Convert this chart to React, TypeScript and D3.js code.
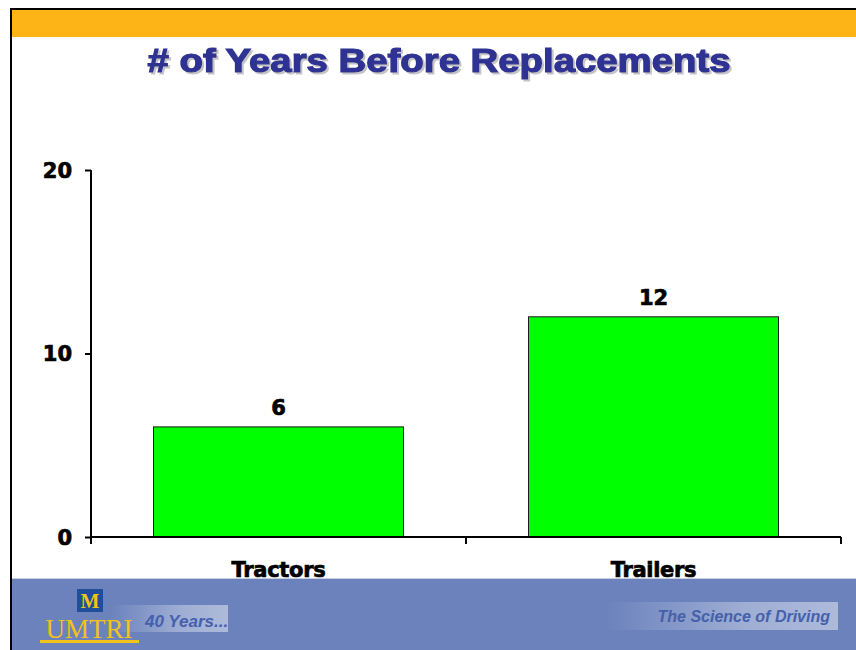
import { useEffect, useRef } from "react";
import * as d3 from "d3";

const categories = ["Tractors", "Trailers"];
const years = [6, 12];
const yTicks = [0, 10, 20];
const chartTitle = "# of Years Before Replacements";

export default function App() {
  const svgRef = useRef<SVGSVGElement | null>(null);

  useEffect(() => {
    const svg = d3.select(svgRef.current);
    svg.selectAll("*").remove();

    const width = 856, height = 650;
    svg.attr("width", width).attr("height", height);

    // slide frame
    svg.append("rect").attr("x", 0).attr("y", 0).attr("width", width).attr("height", height).attr("fill", "#fff");
    svg.append("rect").attr("x", 12).attr("y", 10).attr("width", width - 12).attr("height", 27).attr("fill", "#FDB417");
    svg.append("rect").attr("x", 10).attr("y", 8).attr("width", width - 10).attr("height", 2).attr("fill", "#000");
    svg.append("rect").attr("x", 10).attr("y", 8).attr("width", 2).attr("height", height - 8).attr("fill", "#000");

    const defs = svg.append("defs");
    const fade = defs.append("linearGradient").attr("id", "fade");
    fade.append("stop").attr("offset", "0%").attr("stop-color", "#ffffff").attr("stop-opacity", 0);
    fade.append("stop").attr("offset", "60%").attr("stop-color", "#ffffff").attr("stop-opacity", 0.35);
    fade.append("stop").attr("offset", "100%").attr("stop-color", "#ffffff").attr("stop-opacity", 0.45);
    const shadow = defs.append("filter").attr("id", "shadow").attr("x", "-5%").attr("y", "-20%")
      .attr("width", "110%").attr("height", "150%");
    shadow.append("feDropShadow").attr("dx", 2).attr("dy", 2).attr("stdDeviation", 0.6)
      .attr("flood-color", "#888").attr("flood-opacity", 0.5);

    // footer
    svg.append("rect").attr("x", 12).attr("y", 578).attr("width", width - 12).attr("height", 1).attr("fill", "#c8cfe0");
    svg.append("rect").attr("x", 12).attr("y", 579).attr("width", width - 12).attr("height", height - 579).attr("fill", "#6B82BC");

    svg.append("rect").attr("x", 110).attr("y", 605).attr("width", 118).attr("height", 27).attr("fill", "url(#fade)");
    svg.append("text").attr("x", 145).attr("y", 627).attr("font-family", "Liberation Sans, Arial, sans-serif")
      .attr("font-style", "italic").attr("font-weight", "bold").attr("font-size", 17).attr("fill", "#4560AC")
      .text("40 Years...");
    svg.append("rect").attr("x", 605).attr("y", 602).attr("width", 233).attr("height", 28).attr("fill", "url(#fade)");
    svg.append("text").attr("x", 830).attr("y", 622).attr("text-anchor", "end")
      .attr("font-family", "Liberation Sans, Arial, sans-serif").attr("font-style", "italic")
      .attr("font-weight", "bold").attr("font-size", 16).attr("fill", "#4560AC")
      .text("The Science of Driving");

    // UMTRI logo
    svg.append("rect").attr("x", 77).attr("y", 589).attr("width", 26).attr("height", 23).attr("fill", "#1F4E9A");
    svg.append("text").attr("x", 90).attr("y", 608).attr("text-anchor", "middle")
      .attr("font-family", "Liberation Serif, serif").attr("font-weight", "bold").attr("font-size", 20)
      .attr("fill", "#F2C21A").text("M");
    svg.append("text").attr("x", 89).attr("y", 638).attr("text-anchor", "middle")
      .attr("font-family", "Liberation Serif, serif").attr("font-size", 27).attr("fill", "#F2C21A").text("UMTRI");
    svg.append("rect").attr("x", 40).attr("y", 640).attr("width", 99).attr("height", 3).attr("fill", "#F2C21A");

    // title
    svg.append("text").attr("x", 439).attr("y", 72).attr("text-anchor", "middle")
      .attr("font-family", "Liberation Sans, Arial, sans-serif").attr("font-weight", "bold").attr("font-size", 33)
      .attr("textLength", 583).attr("lengthAdjust", "spacingAndGlyphs")
      .attr("fill", "#2E3192").attr("stroke", "#2E3192").attr("stroke-width", 1.2)
      .attr("filter", "url(#shadow)").text(chartTitle);

    // chart
    const x0 = 91, x1 = 841, yBottom = 537, yTop = 170;
    const x = d3.scaleBand().domain(categories).range([x0, x1]).paddingInner(1 / 3).paddingOuter(1 / 6);
    const y = d3.scaleLinear().domain([0, 20]).range([yBottom, yTop]);
    const bold = (sel: any, size: number) => sel.attr("font-family", "DejaVu Sans, Verdana, sans-serif")
      .attr("font-weight", "bold").attr("font-size", size).attr("fill", "#000")
      .attr("stroke", "#000").attr("stroke-width", 0.7);

    svg.selectAll(".bar").data(categories).enter().append("rect")
      .attr("x", d => x(d)!).attr("width", x.bandwidth())
      .attr("y", (d, i) => y(years[i])).attr("height", (d, i) => yBottom - y(years[i]))
      .attr("fill", "#00FF00").attr("stroke", "#1a1a1a").attr("stroke-width", 1);

    bold(svg.selectAll(".val").data(categories).enter().append("text")
      .attr("x", d => x(d)! + x.bandwidth() / 2).attr("y", (d, i) => y(years[i]) - 12)
      .attr("text-anchor", "middle"), 21)
      .text((d: string, i: number) => String(years[i]));

    const yAxis = svg.append("g").attr("transform", `translate(${x0},0)`)
      .call(d3.axisLeft(y).tickValues(yTicks).tickSize(6).tickPadding(6));
    yAxis.select(".domain").attr("stroke", "#000").attr("stroke-width", 2).attr("d", `M0,${yTop}V${yBottom}`);
    yAxis.selectAll(".tick line").attr("stroke", "#000").attr("stroke-width", 2).attr("x1", -6).attr("x2", 0);
    bold(yAxis.selectAll(".tick text"), 21).attr("dy", "0.35em").attr("x", -19);

    const xAxis = svg.append("g");
    xAxis.append("path").attr("d", `M${x0},${yBottom}H${x1}`).attr("stroke", "#000").attr("stroke-width", 2);
    const bounds = [x0, (x0 + x1) / 2, x1];
    xAxis.selectAll(".xt").data(bounds).enter().append("line")
      .attr("x1", d => d).attr("x2", d => d).attr("y1", yBottom).attr("y2", yBottom + 7)
      .attr("stroke", "#000").attr("stroke-width", 2);
    bold(xAxis.selectAll(".xl").data(categories).enter().append("text")
      .attr("x", d => x(d)! + x.bandwidth() / 2).attr("y", 577).attr("text-anchor", "middle"), 21)
      .attr("letter-spacing", -0.3).text((d: string) => d);
  }, []);

  return <svg ref={svgRef} style={{ display: "block", position: "absolute", left: 0, top: 0 }} />;
}
